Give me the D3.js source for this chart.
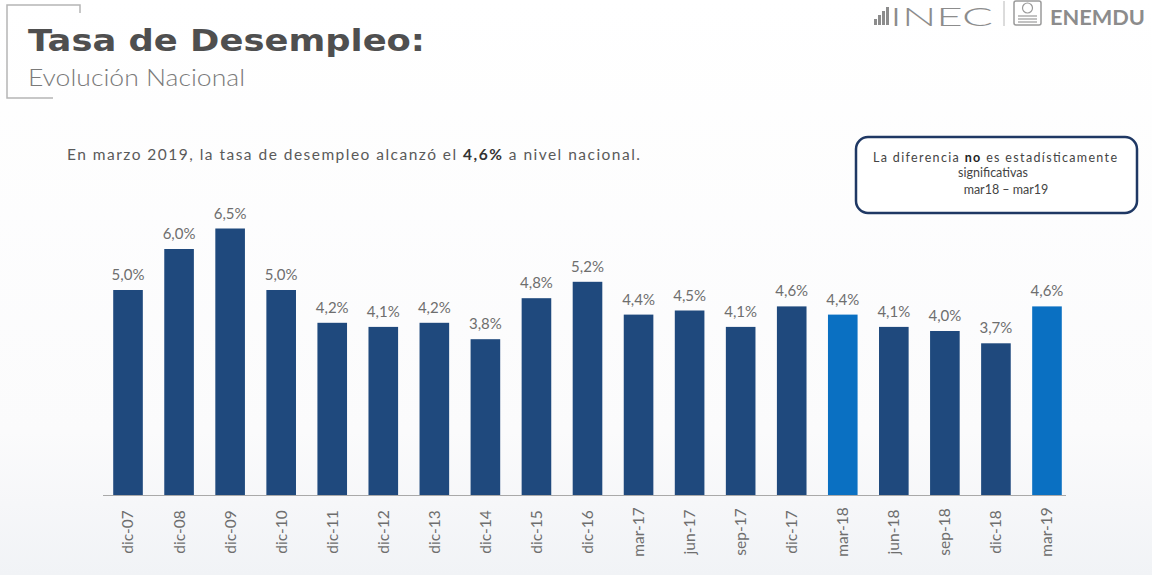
<!DOCTYPE html>
<html lang="es">
<head>
<meta charset="utf-8">
<title>Tasa de Desempleo: Evolución Nacional</title>
<script src="https://cdn.jsdelivr.net/npm/d3@7"></script>
<style>
  html, body { margin: 0; padding: 0; background: #ffffff; }
  svg { display: block; font-family: "Lato", "Noto Sans", sans-serif; }
</style>
</head>
<body>
<svg id="chart" width="1152" height="575"></svg>
<script>
// Periods and national unemployment rate (%)
const periods = ["dic-07","dic-08","dic-09","dic-10","dic-11","dic-12","dic-13","dic-14","dic-15","dic-16",
                 "mar-17","jun-17","sep-17","dic-17","mar-18","jun-18","sep-18","dic-18","mar-19"];
const rates = [5.0, 6.0, 6.5, 5.0, 4.2, 4.1, 4.2, 3.8, 4.8, 5.2, 4.4, 4.5, 4.1, 4.6, 4.4, 4.1, 4.0, 3.7, 4.6];
// Periods being compared are highlighted
const highlighted = ["mar-18", "mar-19"];

const svg = d3.select("#chart");
const W = 1152, H = 575;

// soft background wash
const defs = svg.append("defs");
const bg = defs.append("linearGradient").attr("id", "bg").attr("x1", 0).attr("y1", 0).attr("x2", 0).attr("y2", 1);
bg.append("stop").attr("offset", "0%").attr("stop-color", "#ffffff");
bg.append("stop").attr("offset", "75%").attr("stop-color", "#fbfbfc");
bg.append("stop").attr("offset", "100%").attr("stop-color", "#f1f3f6");
svg.append("rect").attr("width", W).attr("height", H).attr("fill", "url(#bg)");

// Title bracket
svg.append("path")
  .attr("d", "M80,13 V5 H7 V98 H53")
  .attr("fill", "none").attr("stroke", "#b5b5b5").attr("stroke-width", 1.5);

svg.append("text").attr("x", 28).attr("y", 51)
  .attr("font-family", "'DejaVu Sans', sans-serif")
  .attr("font-size", 31).attr("font-weight", 700).attr("fill", "#4f4f4f")
  .attr("textLength", 397).attr("lengthAdjust", "spacingAndGlyphs")
  .text("Tasa de Desempleo:");
svg.append("text").attr("x", 28).attr("y", 86)
  .attr("font-size", 23).attr("fill", "#7a7a7a").attr("font-weight", 300)
  .attr("textLength", 217).attr("lengthAdjust", "spacingAndGlyphs")
  .text("Evolución Nacional");

// INEC / ENEMDU header
const logo = svg.append("g").attr("fill", "#8c8c8c");
[[874, 19], [878, 15], [882, 11], [886, 7]].forEach(([x, y]) => {
  logo.append("rect").attr("x", x).attr("y", y).attr("width", 3).attr("height", 25 - y);
});
logo.append("text").attr("x", 890).attr("y", 26).attr("font-size", 26).attr("font-weight", 300)
  .attr("textLength", 103).attr("lengthAdjust", "spacingAndGlyphs")
  .attr("fill", "#8c8c8c").text("INEC");
logo.append("line").attr("x1", 1004).attr("x2", 1004).attr("y1", 1).attr("y2", 26)
  .attr("stroke", "#b8b8b8").attr("stroke-width", 1);
logo.append("rect").attr("x", 1014).attr("y", 1).attr("width", 27).attr("height", 24).attr("rx", 2)
  .attr("fill", "none").attr("stroke", "#9a9a9a").attr("stroke-width", 1.5);
logo.append("circle").attr("cx", 1027.5).attr("cy", 8).attr("r", 5)
  .attr("fill", "none").attr("stroke", "#9a9a9a").attr("stroke-width", 1.2);
[16, 19, 22].forEach(y => logo.append("line").attr("x1", 1018).attr("x2", 1037).attr("y1", y).attr("y2", y)
  .attr("stroke", "#9a9a9a").attr("stroke-width", 1.2));
logo.append("text").attr("x", 1050).attr("y", 25).attr("font-size", 21).attr("font-weight", 700)
  .attr("textLength", 95).attr("lengthAdjust", "spacingAndGlyphs")
  .attr("fill", "#8c8c8c").text("ENEMDU");

// Summary sentence
const note = svg.append("text").attr("x", 67).attr("y", 160)
  .attr("font-size", 15.5).attr("fill", "#5a5a5a")
  .attr("textLength", 573).attr("lengthAdjust", "spacing");
note.append("tspan").text("En marzo 2019, la tasa de desempleo alcanzó el ");
note.append("tspan").attr("font-weight", 700).attr("fill", "#333").text("4,6%");
note.append("tspan").text(" a nivel nacional.");

// Significance box
svg.append("rect").attr("x", 856).attr("y", 137).attr("width", 281).attr("height", 76).attr("rx", 12)
  .attr("fill", "#ffffff").attr("stroke", "#1f3864").attr("stroke-width", 2.5);
const boxText = svg.append("g").attr("text-anchor", "middle").attr("font-size", 12.5).attr("fill", "#444");
const l1 = boxText.append("text").attr("x", 995).attr("y", 162)
  .attr("textLength", 244).attr("lengthAdjust", "spacing");
l1.append("tspan").text("La  diferencia ");
l1.append("tspan").attr("font-weight", 700).attr("fill", "#222").text("no");
l1.append("tspan").text(" es estadísticamente");
boxText.append("text").attr("x", 993).attr("y", 177).text("significativas");
boxText.append("text").attr("x", 1006).attr("y", 194).text("mar18 – mar19");

// Scales
const x = d3.scaleBand().domain(periods).range([103, 1072]).paddingInner(0.42).paddingOuter(0.2);
const y = d3.scaleLinear().domain([0, 7]).range([495, 208]);

// Bars
svg.append("g").selectAll("rect").data(periods).join("rect")
  .attr("x", d => x(d))
  .attr("width", x.bandwidth())
  .attr("y", (d, i) => y(rates[i]))
  .attr("height", (d, i) => y(0) - y(rates[i]))
  .attr("fill", d => highlighted.includes(d) ? "#0a70c2" : "#1f497d");

// Value labels
svg.append("g").attr("text-anchor", "middle").attr("font-size", 15).attr("fill", "#6e6e6e")
  .selectAll("text").data(periods).join("text")
  .attr("x", d => x(d) + x.bandwidth() / 2)
  .attr("y", (d, i) => y(rates[i]) - 10)
  .text((d, i) => d3.format(".1f")(rates[i]).replace(".", ",") + "%");

// Category axis
const axis = svg.append("g").attr("transform", `translate(0,${y(0)})`)
  .call(d3.axisBottom(x).tickSize(0).tickPadding(0));
axis.select(".domain").attr("stroke", "#a9a9a9").attr("stroke-width", 1.2)
  .attr("d", "M103,0.5H1066");
axis.selectAll(".tick text")
  .attr("transform", "rotate(-90)")
  .attr("x", -37).attr("y", 0).attr("dy", "0.35em")
  .attr("text-anchor", "middle")
  .attr("font-family", "Lato, 'Noto Sans', sans-serif")
  .attr("font-size", 15.5).attr("fill", "#6e6e6e");
</script>
</body>
</html>
